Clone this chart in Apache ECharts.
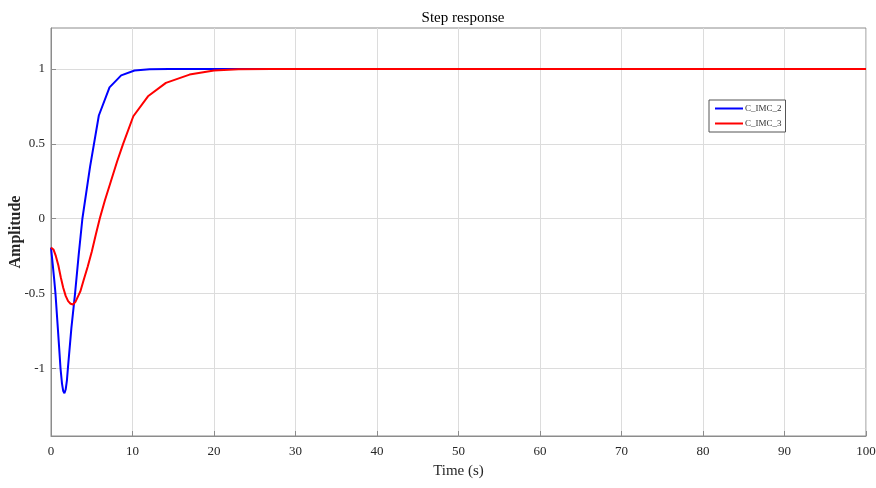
<!DOCTYPE html>
<html>
<head>
<meta charset="utf-8">
<title>Step response</title>
<script src="https://cdn.jsdelivr.net/npm/echarts@6/dist/echarts.min.js"></script>
<style>
    html, body { margin: 0; padding: 0; background: #fff; }
    #chart { width: 876px; height: 488px; }
</style>
</head>
<body>
<div id="chart"></div>
<script>
// time samples (s) and amplitudes
var timeImc2 = [0, 0.2, 0.4, 0.55, 0.8, 1.0, 1.17, 1.35, 1.5, 1.65, 1.8, 1.95, 2.07, 2.5, 2.95, 3.4, 3.85, 4.8, 5.87, 7.18, 8.61, 10.25, 12.1, 14.5, 100];
var ampImc2 = [-0.193, -0.30, -0.41, -0.50, -0.70, -0.86, -1.0, -1.10, -1.15, -1.165, -1.14, -1.08, -1.0, -0.73, -0.5, -0.24, 0.0, 0.35, 0.689, 0.877, 0.957, 0.989, 0.998, 1.0, 1.0];

var timeImc3 = [0, 0.3, 0.6, 0.9, 1.2, 1.5, 1.8, 2.1, 2.4, 2.7, 3.0, 3.3, 3.6, 4.0, 4.5, 5.0, 5.5, 6.0, 6.6, 7.35, 8.1, 8.85, 10.1, 11.9, 14.1, 17.0, 20.0, 23.0, 27.0, 100];
var ampImc3 = [-0.193, -0.205, -0.25, -0.31, -0.39, -0.46, -0.515, -0.55, -0.567, -0.572, -0.555, -0.52, -0.485, -0.41, -0.32, -0.22, -0.105, 0.005, 0.12, 0.25, 0.38, 0.5, 0.684, 0.817, 0.907, 0.962, 0.989, 0.998, 1.0, 1.0];

var yTicks = [-1, -0.5, 0, 0.5, 1];
var seriesNames = ['C_IMC_2', 'C_IMC_3'];

function pairs(xs, ys) {
    var out = [];
    for (var i = 0; i < xs.length; i++) {
        out.push([xs[i], ys[i]]);
    }
    return out;
}

var serif = 'Liberation Serif';
var myChart = echarts.init(document.getElementById('chart'));
var option = {
    backgroundColor: '#fff',
    animation: false,
    title: {
        text: 'Step response',
        left: 458,
        textAlign: 'center',
        top: 6,
        textStyle: { fontFamily: serif, fontSize: 15, fontWeight: 'normal', color: '#000' }
    },
    legend: {
        data: seriesNames,
        orient: 'vertical',
        left: 709,
        top: 100,
        icon: 'rect',
        itemWidth: 28,
        itemHeight: 2,
        itemGap: 6,
        padding: [4, 4, 4, 6],
        borderColor: '#555',
        borderWidth: 1,
        backgroundColor: '#fff',
        textStyle: { fontFamily: serif, fontSize: 9, color: '#333', padding: [0, 0, 0, -3] }
    },
    grid: {
        left: 51,
        right: 10,
        top: 28,
        bottom: 52,
        outerBoundsMode: 'none',
        containLabel: false,
        show: true,
        borderColor: '#8c8c8c',
        borderWidth: 1
    },
    xAxis: {
        type: 'value',
        min: 0,
        max: 100,
        interval: 10,
        name: 'Time (s)',
        nameLocation: 'middle',
        nameGap: 28,
        nameMoveOverlap: false,
        nameTextStyle: { fontFamily: serif, fontSize: 15, color: '#262626' },
        axisLine: { show: true, onZero: false, lineStyle: { color: '#8c8c8c' } },
        axisTick: { show: true, inside: true, length: 5, lineStyle: { color: '#8c8c8c' } },
        axisLabel: { fontFamily: serif, fontSize: 13, color: '#262626', margin: 9 },
        splitLine: { show: true, lineStyle: { color: '#dcdcdc', width: 1 } }
    },
    yAxis: {
        type: 'value',
        min: -1.45,
        max: 1.273,
        name: 'Amplitude',
        nameLocation: 'middle',
        nameGap: 27,
        nameMoveOverlap: false,
        nameTextStyle: { fontFamily: serif, fontSize: 16, fontWeight: 'bold', color: '#262626' },
        axisLine: { show: true, onZero: false, lineStyle: { color: '#8c8c8c' } },
        axisTick: { show: true, inside: true, length: 5, customValues: yTicks, lineStyle: { color: '#8c8c8c' } },
        axisLabel: { fontFamily: serif, fontSize: 13, color: '#262626', margin: 6, customValues: yTicks },
        splitLine: { show: true, lineStyle: { color: '#dcdcdc', width: 1 } }
    },
    series: [{
        name: seriesNames[0],
        type: 'line',
        data: pairs(timeImc2, ampImc2),
        symbol: 'none',
        itemStyle: { color: '#0000ff' },
        lineStyle: { color: '#0000ff', width: 2 },
        z: 3
    }, {
        name: seriesNames[1],
        type: 'line',
        data: pairs(timeImc3, ampImc3),
        symbol: 'none',
        itemStyle: { color: '#ff0000' },
        lineStyle: { color: '#ff0000', width: 2 },
        z: 4
    }]
};
myChart.setOption(option);
</script>
</body>
</html>
